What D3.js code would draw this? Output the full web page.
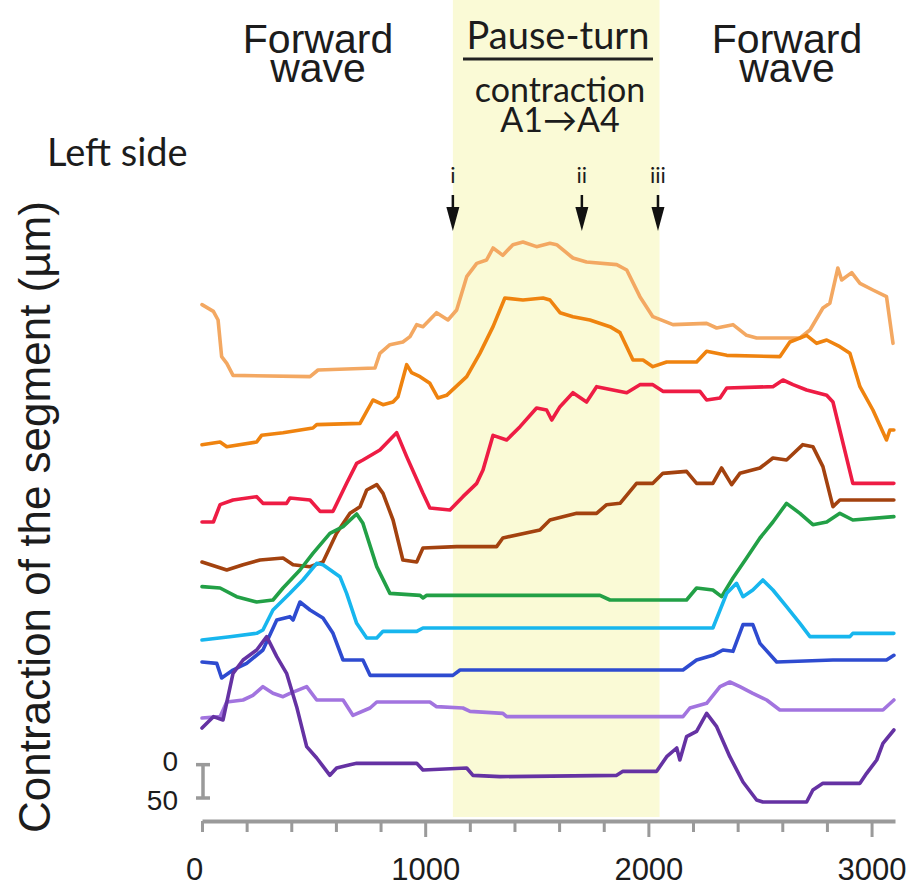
<!DOCTYPE html>
<html>
<head>
<meta charset="utf-8">
<script src="https://cdn.jsdelivr.net/npm/d3@7"></script>
<style>
  body { margin: 0; background: #fff; }
  svg { display: block; }
</style>
</head>
<body>
<svg id="chart" width="917" height="888"></svg>
<script>
// Time axis (ms): minor ticks every 200, labels every 1000
const timeTicks = d3.range(0, 3001, 200);
const timeLabels = [0, 1000, 2000, 3000];

// Pause-turn window and the three marked instants
const pauseWindow = [1124, 2050];
const markerTimes = [1124, 1702, 2043];
const markerLabels = ["i", "ii", "iii"];

// Scale bar (µm, stacked trace axis, contraction increases downward)
const scaleBarStart = 802;
const scaleBarLength = 50;
const scaleBarLabels = ["0", "50"];

// Segment traces: [time ms, stacked position µm]
const traceLightOrange = [
  [0,112],[51,122],[72,135],[88,190],[111,200],[139,218],[484,220],[520,210],[775,207],
  [797,185],[842,172],[900,168],[932,160],[962,142],[990,145],[1051,124],[1102,135],
  [1141,120],[1186,70],[1231,50],[1275,45],[1304,27],[1348,38],[1393,22],[1438,18],
  [1499,25],[1559,20],[1589,22],[1662,42],[1723,48],[1858,52],[1903,60],[1962,100],
  [2020,130],[2110,142],[2261,140],[2306,147],[2379,142],[2440,158],[2485,162],[2679,162],
  [2724,150],[2782,117],[2813,110],[2849,57],[2866,75],[2911,64],[2948,80],[3006,90],
  [3067,100],[3096,170]
];
const traceOrange = [
  [0,322],[81,318],[111,325],[245,318],[267,308],[363,304],[497,297],[514,292],[708,290],
  [766,255],[811,262],[856,258],[878,250],[917,202],[939,214],[977,220],[1021,230],
  [1057,252],[1096,248],[1186,220],[1245,185],[1304,145],[1357,102],[1438,105],[1528,102],
  [1559,105],[1604,124],[1662,130],[1738,135],[1828,145],[1873,154],[1931,195],[1976,195],
  [2020,205],[2082,198],[2216,198],[2261,182],[2351,188],[2589,190],[2634,168],[2709,158],
  [2754,170],[2799,165],[2858,175],[2903,185],[2948,235],[3006,270],[3067,315],[3082,300],
  [3100,300]
];
const traceRed = [
  [0,438],[51,438],[81,412],[139,405],[245,400],[273,410],[379,410],[394,402],[484,405],
  [529,422],[587,422],[648,380],[693,350],[721,345],[797,330],[872,304],[917,340],
  [990,395],[1021,417],[1111,420],[1169,400],[1231,380],[1259,360],[1304,308],[1365,315],
  [1425,295],[1499,267],[1544,270],[1567,285],[1604,265],[1662,244],[1723,258],[1768,235],
  [1903,244],[1962,232],[2020,232],[2065,242],[2231,242],[2261,255],[2321,252],[2351,237],
  [2558,235],[2603,225],[2648,232],[2709,240],[2799,248],[2827,258],[2916,380],[3100,380]
];
const traceBrown = [
  [0,498],[66,505],[111,510],[184,502],[260,495],[363,492],[408,502],[484,505],[542,498],
  [603,455],[663,425],[708,415],[738,390],[783,382],[811,395],[856,435],[900,495],
  [962,498],[990,477],[1141,475],[1320,475],[1348,462],[1514,450],[1559,435],[1679,425],
  [1768,425],[1813,412],[1873,410],[1947,380],[2020,380],[2065,365],[2171,362],[2216,380],
  [2289,380],[2328,357],[2373,382],[2410,365],[2500,357],[2558,342],[2619,345],[2692,322],
  [2737,325],[2782,355],[2827,415],[2858,405],[3100,405]
];
const traceGreen = [
  [0,535],[81,537],[155,550],[245,558],[318,555],[363,537],[439,510],[497,485],[573,455],
  [632,445],[693,426],[721,440],[783,505],[842,545],[977,548],[990,552],[1007,548],
  [1783,548],[1828,555],[2171,555],[2216,537],[2289,540],[2328,550],[2379,522],[2440,492],
  [2500,462],[2558,438],[2619,410],[2679,425],[2737,442],[2799,438],[2858,425],[2916,435],
  [3100,430]
];
const traceCyan = [
  [0,615],[125,610],[245,605],[273,600],[318,570],[394,545],[452,525],[514,500],[542,502],
  [618,520],[648,545],[693,590],[738,612],[783,612],[811,602],[962,602],[990,597],
  [2289,597],[2351,545],[2395,530],[2424,550],[2468,540],[2513,525],[2558,540],[2619,565],
  [2679,590],[2724,610],[2903,610],[2916,605],[3100,605]
];
const traceBlue = [
  [0,648],[66,650],[88,672],[139,660],[200,650],[273,630],[335,585],[394,580],[408,585],
  [439,558],[484,570],[542,582],[587,605],[632,645],[721,645],[753,668],[1124,668],
  [1156,660],[2155,660],[2216,645],[2289,638],[2334,630],[2379,632],[2424,592],[2468,592],
  [2500,620],[2575,648],[2827,645],[3067,645],[3100,638]
];
const traceLightPurple = [
  [0,732],[81,730],[111,708],[184,705],[228,698],[273,685],[318,695],[363,700],[394,695],
  [469,685],[514,705],[632,705],[676,728],[753,717],[783,708],[1021,708],[1051,715],
  [1169,717],[1201,722],[1348,725],[1365,730],[2155,730],[2186,717],[2261,710],[2321,685],
  [2365,678],[2410,685],[2468,695],[2530,705],[2589,720],[3051,720],[3100,705]
];
const traceDarkPurple = [
  [0,747],[51,730],[94,735],[139,665],[184,645],[245,630],[290,610],[335,640],[379,665],
  [424,715],[469,775],[514,792],[573,818],[603,807],[663,802],[693,800],[962,800],
  [990,810],[1186,807],[1214,818],[1335,820],[1858,818],[1886,812],[2037,812],[2082,790],
  [2127,777],[2141,795],[2171,760],[2216,752],[2261,725],[2306,745],[2365,790],[2424,828],
  [2485,855],[2513,858],[2709,858],[2737,840],[2782,830],[2948,830],[2978,815],[3023,795],
  [3051,770],[3100,750]
];

const traces = [
  traceLightOrange, traceOrange, traceRed, traceBrown, traceGreen,
  traceCyan, traceBlue, traceLightPurple, traceDarkPurple
];
const traceColors = [
  "#f3a862", "#ef830f", "#ee1c44", "#a3420f", "#22a046",
  "#17b6ee", "#2e4bd0", "#a274df", "#6532a3"
];

const svg = d3.select("#chart");
const x = d3.scaleLinear().domain([0, 3105]).range([202, 895]);
const y = d3.scaleLinear().domain([0, 900]).range([230, 830]);

const textColor = "#1c1c1c";
const sansHelv = "'Liberation Sans', Arial, Helvetica, sans-serif";
const sansHuman = "Lato, 'Noto Sans', sans-serif";

// Pause-turn shading
svg.append("rect")
  .attr("x", x(pauseWindow[0]))
  .attr("y", 0)
  .attr("width", x(pauseWindow[1]) - x(pauseWindow[0]))
  .attr("height", 817)
  .attr("fill", "#fafad6");

// Traces
const line = d3.line().x(d => x(d[0])).y(d => y(d[1]));
svg.append("g")
  .selectAll("path")
  .data(traces)
  .join("path")
  .attr("d", line)
  .attr("fill", "none")
  .attr("stroke", (d, i) => traceColors[i])
  .attr("stroke-width", 3.6)
  .attr("stroke-linejoin", "round")
  .attr("stroke-linecap", "round");

// Time axis
const axis = d3.axisBottom(x)
  .tickValues(timeTicks)
  .tickSizeInner(11)
  .tickSizeOuter(0)
  .tickPadding(26)
  .tickFormat(d => timeLabels.includes(d) ? d : "");
const gAxis = svg.append("g")
  .attr("transform", "translate(0,821)")
  .call(axis);
gAxis.select(".domain")
  .attr("stroke", "#9a9a9a")
  .attr("stroke-width", 4);
gAxis.selectAll(".tick line")
  .attr("stroke", "#9a9a9a")
  .attr("stroke-width", 3)
  .attr("y2", d => (d > 0 && d % 1000 === 0) ? 16 : 11);
gAxis.selectAll(".tick text")
  .attr("fill", textColor)
  .attr("dx", d => d === 0 ? -8 : 0)
  .style("font-family", sansHelv)
  .style("font-size", "31px");

// Scale bar
const sbX = 203;
const sb = svg.append("g").attr("stroke", "#9a9a9a").attr("stroke-width", 3.5);
sb.append("line").attr("x1", sbX).attr("x2", sbX)
  .attr("y1", y(scaleBarStart)).attr("y2", y(scaleBarStart + scaleBarLength));
sb.append("line").attr("x1", sbX - 7).attr("x2", sbX + 7)
  .attr("y1", y(scaleBarStart)).attr("y2", y(scaleBarStart));
sb.append("line").attr("x1", sbX - 7).attr("x2", sbX + 7)
  .attr("y1", y(scaleBarStart + scaleBarLength)).attr("y2", y(scaleBarStart + scaleBarLength));
svg.selectAll(".sblabel")
  .data(scaleBarLabels)
  .join("text")
  .attr("class", "sblabel")
  .attr("x", 178)
  .attr("y", (d, i) => y(scaleBarStart + i * scaleBarLength) + (i === 0 ? 6 : 12))
  .attr("text-anchor", "end")
  .attr("fill", textColor)
  .style("font-family", sansHelv)
  .style("font-size", "28px")
  .text(d => d);

// Y title
svg.append("text")
  .attr("transform", "translate(50,517) rotate(-90)")
  .attr("text-anchor", "middle")
  .attr("fill", textColor)
  .style("font-family", sansHelv)
  .style("font-size", "44px")
  .text("Contraction of the segment (\u00b5m)");

// Phase headings
function twoLine(cx, lines, baselines, font, size) {
  const t = svg.append("text")
    .attr("text-anchor", "middle")
    .attr("fill", textColor)
    .style("font-family", font)
    .style("font-size", size + "px");
  lines.forEach((s, i) => t.append("tspan").attr("x", cx).attr("y", baselines[i]).text(s));
  return t;
}
twoLine(318, ["Forward", "wave"], [53, 82], sansHelv, 41);
twoLine(787, ["Forward", "wave"], [53, 82], sansHelv, 41);

svg.append("text")
  .attr("x", 558).attr("y", 49)
  .attr("text-anchor", "middle")
  .attr("fill", textColor)
  .style("font-family", sansHuman)
  .style("font-size", "38px")
  .text("Pause-turn");
svg.append("line")
  .attr("x1", 463).attr("x2", 653)
  .attr("y1", 59).attr("y2", 59)
  .attr("stroke", "#222").attr("stroke-width", 3);
twoLine(560, ["contraction", "A1\u2192A4"], [102, 132], sansHuman, 34);

svg.append("text")
  .attr("x", 47).attr("y", 166)
  .attr("fill", textColor)
  .style("font-family", sansHuman)
  .style("font-size", "38px")
  .text("Left side");

// Event markers
const markers = svg.append("g");
markerTimes.forEach((t, i) => {
  const mx = x(t);
  markers.append("text")
    .attr("x", mx).attr("y", 183)
    .attr("text-anchor", "middle")
    .attr("fill", textColor)
    .style("font-family", sansHuman)
    .style("font-size", "22px")
    .text(markerLabels[i]);
  markers.append("line")
    .attr("x1", mx).attr("x2", mx)
    .attr("y1", 195).attr("y2", 214)
    .attr("stroke", "#111").attr("stroke-width", 2.5);
  markers.append("path")
    .attr("d", `M${mx - 6.5},207 L${mx + 6.5},207 L${mx},231 Z`)
    .attr("fill", "#111");
});
</script>
</body>
</html>
